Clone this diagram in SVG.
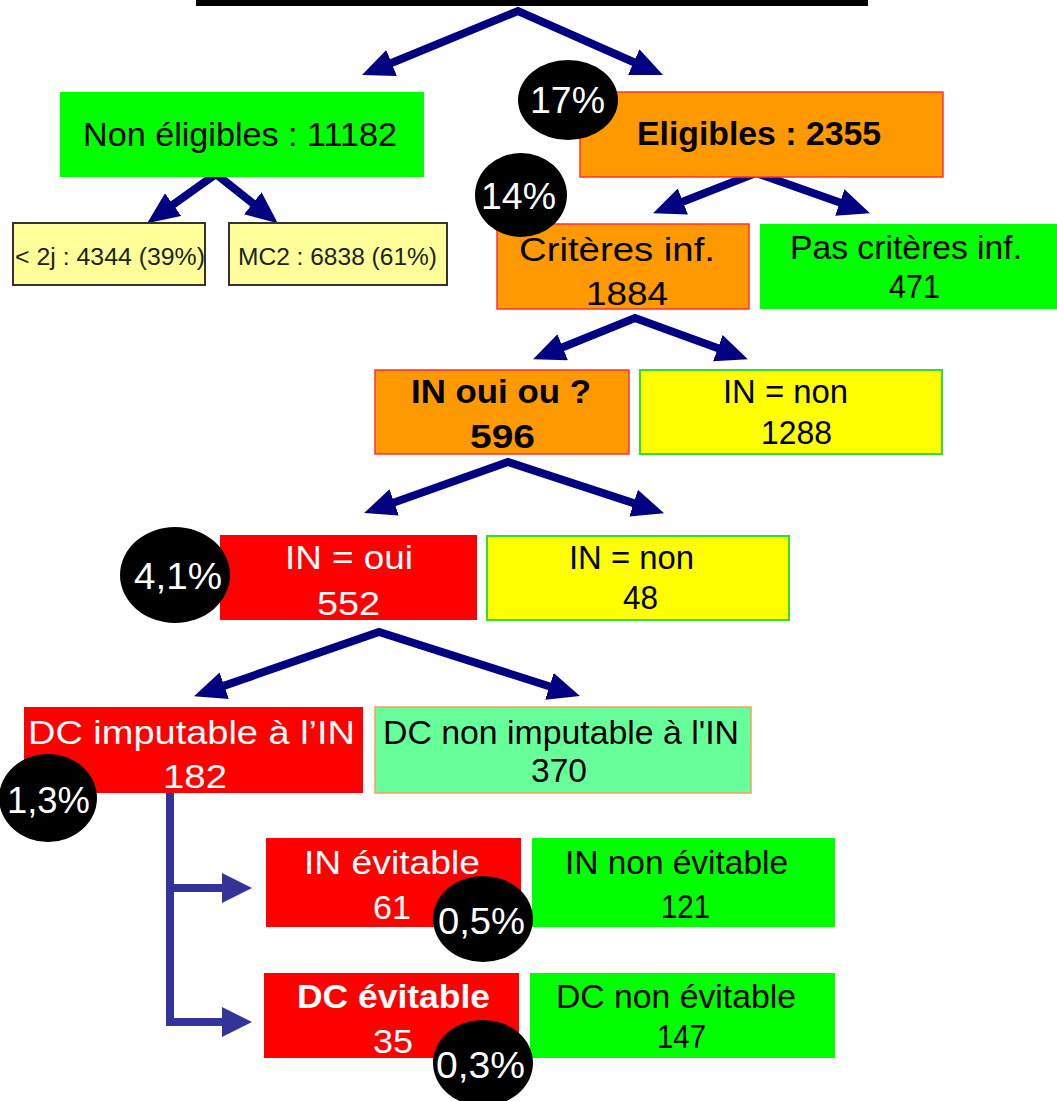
<svg xmlns="http://www.w3.org/2000/svg" width="1057" height="1101" viewBox="0 0 1057 1101">
<style>
  text { font-family: "Liberation Sans", Arial, sans-serif; font-size: 34px; fill: #000; }
  .w { fill: #fff; }
  .b { font-weight: bold; }
  .sm { font-size: 23px; fill: #222; }
  .pct { font-size: 36px; fill: #fff; }
  .green { fill: #00ff00; }
  .orange { fill: #ff9900; stroke: #ff3333; stroke-width: 1.5; }
  .red { fill: #ff0000; }
  .yellow { fill: #ffff00; stroke: #33dd33; stroke-width: 2; }
  .ly { fill: #ffff99; stroke: #333; stroke-width: 2; }
  .lg { fill: #66ff99; stroke: #ff9966; stroke-width: 1.5; }
  .badge { fill: #000; }
  .tree { fill: none; stroke: #000080; stroke-width: 8; stroke-linejoin: miter; marker-start: url(#ah); marker-end: url(#ah); }
  .side { fill: none; stroke: #333399; stroke-width: 8; }
</style>
<defs>
  <marker id="ah" viewBox="0 0 4 3.5" markerWidth="4" markerHeight="3.5" refX="1.5" refY="1.75" orient="auto-start-reverse">
    <path d="M0,0 L4,1.75 L0,3.5 z" fill="#000080"/>
  </marker>
  <marker id="ah2" viewBox="0 0 3.75 3.75" markerWidth="3.75" markerHeight="3.75" refX="0.5" refY="1.875" orient="auto">
    <path d="M0,0 L3.75,1.875 L0,3.75 z" fill="#333399"/>
  </marker>
</defs>

<rect x="196" y="0" width="672" height="6" fill="#000"/>

<g id="connectors">
  <path class="tree" d="M380.5,67.5 L518,11 L644.7,67"/>
  <path class="tree" d="M163.4,211.6 L216,174 L262.2,210.8"/>
  <path class="tree" d="M671.7,205.9 L756,173 L851.1,206.5"/>
  <path class="tree" d="M551.6,351.7 L635,318 L729.1,352.3"/>
  <path class="tree" d="M382.9,506.4 L508,462 L645,506.9"/>
  <path class="tree" d="M212.9,689.6 L379,632 L560.9,690"/>
  <path class="side" d="M170,791 V1022"/>
  <path class="side" d="M166,888 H226" marker-end="url(#ah2)"/>
  <path class="side" d="M166,1022 H226" marker-end="url(#ah2)"/>
</g>

<g id="non-eligibles">
  <rect class="green" x="60" y="92" width="364" height="85"/>
  <text x="83" y="146" textLength="314" lengthAdjust="spacingAndGlyphs">Non éligibles : 11182</text>
</g>
<g id="moins-2j">
  <rect class="ly" x="13" y="223" width="192" height="62"/>
  <text class="sm" x="15" y="265" textLength="190" lengthAdjust="spacingAndGlyphs">&lt; 2j : 4344 (39%)</text>
</g>
<g id="mc2">
  <rect class="ly" x="229" y="223" width="218" height="62"/>
  <text class="sm" x="238" y="265" textLength="199" lengthAdjust="spacingAndGlyphs">MC2 : 6838 (61%)</text>
</g>
<g id="eligibles">
  <rect class="orange" x="580" y="92" width="363" height="85"/>
  <text class="b" x="637" y="145" textLength="244" lengthAdjust="spacingAndGlyphs">Eligibles : 2355</text>
</g>
<g id="badge-17">
  <ellipse class="badge" cx="568" cy="100" rx="50" ry="40"/>
  <text class="pct" x="530" y="113" textLength="75" lengthAdjust="spacingAndGlyphs">17%</text>
</g>
<g id="criteres">
  <rect class="orange" x="497" y="224" width="252" height="85"/>
  <text x="519" y="261" textLength="196" lengthAdjust="spacingAndGlyphs">Critères inf.</text>
  <text x="586" y="305" textLength="82" lengthAdjust="spacingAndGlyphs">1884</text>
</g>
<g id="badge-14">
  <ellipse class="badge" cx="521" cy="195" rx="46" ry="42"/>
  <text class="pct" x="481" y="209" textLength="75" lengthAdjust="spacingAndGlyphs">14%</text>
</g>
<g id="pas-criteres">
  <rect class="green" x="760" y="224" width="297" height="85"/>
  <text x="790" y="259" textLength="232" lengthAdjust="spacingAndGlyphs">Pas critères inf.</text>
  <text x="889" y="298" textLength="51" lengthAdjust="spacingAndGlyphs">471</text>
</g>
<g id="in-oui-ou">
  <rect class="orange" x="375" y="370" width="254" height="84"/>
  <text class="b" x="411" y="403" textLength="180" lengthAdjust="spacingAndGlyphs">IN oui ou ?</text>
  <text class="b" x="470" y="448" textLength="65" lengthAdjust="spacingAndGlyphs">596</text>
</g>
<g id="in-non-1288">
  <rect class="yellow" x="640" y="370" width="302" height="84"/>
  <text x="723" y="403" textLength="125" lengthAdjust="spacingAndGlyphs">IN = non</text>
  <text x="761" y="444" textLength="71" lengthAdjust="spacingAndGlyphs">1288</text>
</g>
<g id="in-oui">
  <rect class="red" x="220" y="535" width="257" height="85"/>
  <text class="w" x="285" y="569" textLength="128" lengthAdjust="spacingAndGlyphs">IN = oui</text>
  <text class="w" x="317" y="615" textLength="63" lengthAdjust="spacingAndGlyphs">552</text>
</g>
<g id="badge-41">
  <ellipse class="badge" cx="175" cy="575" rx="55" ry="48"/>
  <text class="pct" x="134" y="589" textLength="88" lengthAdjust="spacingAndGlyphs">4,1%</text>
</g>
<g id="in-non-48">
  <rect class="yellow" x="487" y="536" width="302" height="84"/>
  <text x="569" y="569" textLength="125" lengthAdjust="spacingAndGlyphs">IN = non</text>
  <text x="623" y="609" textLength="35" lengthAdjust="spacingAndGlyphs">48</text>
</g>
<g id="dc-imputable">
  <rect class="red" x="24" y="707" width="339" height="86"/>
  <text class="w" x="28" y="744" textLength="327" lengthAdjust="spacingAndGlyphs">DC imputable à l’IN</text>
  <text class="w" x="163" y="788" textLength="64" lengthAdjust="spacingAndGlyphs">182</text>
</g>
<g id="badge-13">
  <ellipse class="badge" cx="48" cy="798" rx="49" ry="44"/>
  <text class="pct" x="7" y="813" textLength="83" lengthAdjust="spacingAndGlyphs">1,3%</text>
</g>
<g id="dc-non-imputable">
  <rect class="lg" x="375" y="707" width="376" height="86"/>
  <text x="383" y="744" textLength="356" lengthAdjust="spacingAndGlyphs">DC non imputable à l'IN</text>
  <text x="531" y="782" textLength="56" lengthAdjust="spacingAndGlyphs">370</text>
</g>
<g id="in-evitable">
  <rect class="red" x="266" y="838" width="255" height="89"/>
  <text class="w" x="304" y="874" textLength="176" lengthAdjust="spacingAndGlyphs">IN évitable</text>
  <text class="w" x="373" y="919" textLength="38" lengthAdjust="spacingAndGlyphs">61</text>
</g>
<g id="in-non-evitable">
  <rect class="green" x="532" y="838" width="303" height="89"/>
  <text x="565" y="874" textLength="223" lengthAdjust="spacingAndGlyphs">IN non évitable</text>
  <text x="661" y="918" textLength="49" lengthAdjust="spacingAndGlyphs">121</text>
</g>
<g id="badge-05">
  <ellipse class="badge" cx="483" cy="919" rx="50" ry="43"/>
  <text class="pct" x="438" y="934" textLength="87" lengthAdjust="spacingAndGlyphs">0,5%</text>
</g>
<g id="dc-evitable">
  <rect class="red" x="264" y="973" width="255" height="85"/>
  <text class="w b" x="297" y="1008" textLength="193" lengthAdjust="spacingAndGlyphs">DC évitable</text>
  <text class="w" x="373" y="1053" textLength="40" lengthAdjust="spacingAndGlyphs">35</text>
</g>
<g id="dc-non-evitable">
  <rect class="green" x="530" y="973" width="305" height="85"/>
  <text x="556" y="1008" textLength="240" lengthAdjust="spacingAndGlyphs">DC non évitable</text>
  <text x="657" y="1048" textLength="49" lengthAdjust="spacingAndGlyphs">147</text>
</g>
<g id="badge-03">
  <ellipse class="badge" cx="483" cy="1063" rx="50" ry="43"/>
  <text class="pct" x="436" y="1078" textLength="89" lengthAdjust="spacingAndGlyphs">0,3%</text>
</g>
</svg>
